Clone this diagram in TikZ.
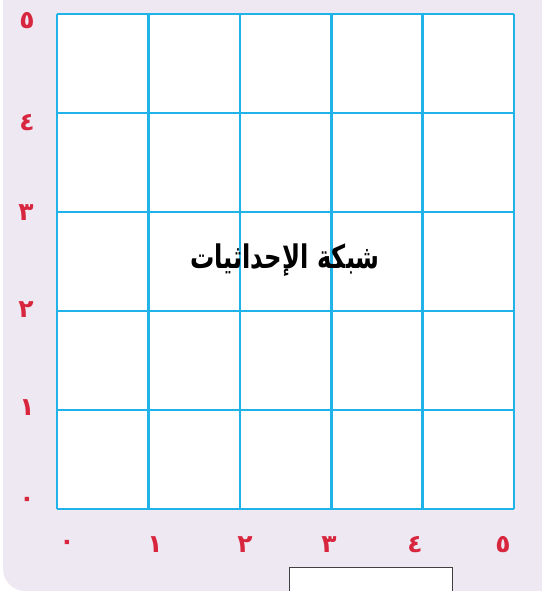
\documentclass[tikz,border=0pt]{standalone}
\usepackage{fontspec}
\TeXXeTstate=1
\newfontfamily\arabicfont[Script=Arabic]{DejaVu Sans}
\definecolor{bgl}{HTML}{EEE8F3}
\definecolor{gridc}{HTML}{1FB3EA}
\definecolor{numc}{HTML}{D9263F}
\tikzset{
  gridline/.style={draw=gridc, line width=2.6pt},
  numlabel/.style={text=numc, font=\arabicfont\bfseries\fontsize{25}{25}\selectfont, inner sep=0pt, anchor=center},
  titlelabel/.style={font=\arabicfont\bfseries\fontsize{25}{25}\selectfont, inner sep=0pt},
  answerbox/.style={draw=black!75, fill=white, line width=0.8pt}
}
\begin{document}
\begin{tikzpicture}[x=1pt,y=-1pt]
\useasboundingbox (0,0) rectangle (541,591);
\fill[white] (0,0) rectangle (541,591);
\fill[bgl] (3,-10) -- (560,-10) -- (560,591) -- (25,591) .. controls (13,591) and (3,581) .. (3,569) -- cycle;
% grid
\fill[white] (57,14) rectangle (514,509);
\foreach \x in {57,148.4,239.8,331.2,422.6,514}
  \draw[gridline] (\x,14) -- (\x,509);
\foreach \y in {14,113,212,311,410,509}
  \draw[gridline] (57,\y) -- (514,\y);
% y labels
\node[numlabel] (y5) at (27,21) {\beginR ٥\endR};
\node[numlabel] (y4) at (27,123) {\beginR ٤\endR};
\node[numlabel] (y3) at (26,213) {\beginR ٣\endR};
\node[numlabel] (y2) at (26,310) {\beginR ٢\endR};
\node[numlabel] (y1) at (27,408) {\beginR ١\endR};
\node[numlabel] (y0) at (27,502) {\beginR ٠\endR};
% x labels
\node[numlabel] (x0) at (67,545) {\beginR ٠\endR};
\node[numlabel] (x1) at (155,545) {\beginR ١\endR};
\node[numlabel] (x2) at (245,545) {\beginR ٢\endR};
\node[numlabel] (x3) at (329,545) {\beginR ٣\endR};
\node[numlabel] (x4) at (415,545) {\beginR ٤\endR};
\node[numlabel] (x5) at (503,545) {\beginR ٥\endR};
% title
\node[titlelabel] (title) at (285,260) {\scalebox{0.97}[1.3]{\beginR شبكة الإحداثيات\endR}};
% answer box
\draw[answerbox] (289.5,567.5) rectangle (452.5,595);
\end{tikzpicture}
\end{document}
